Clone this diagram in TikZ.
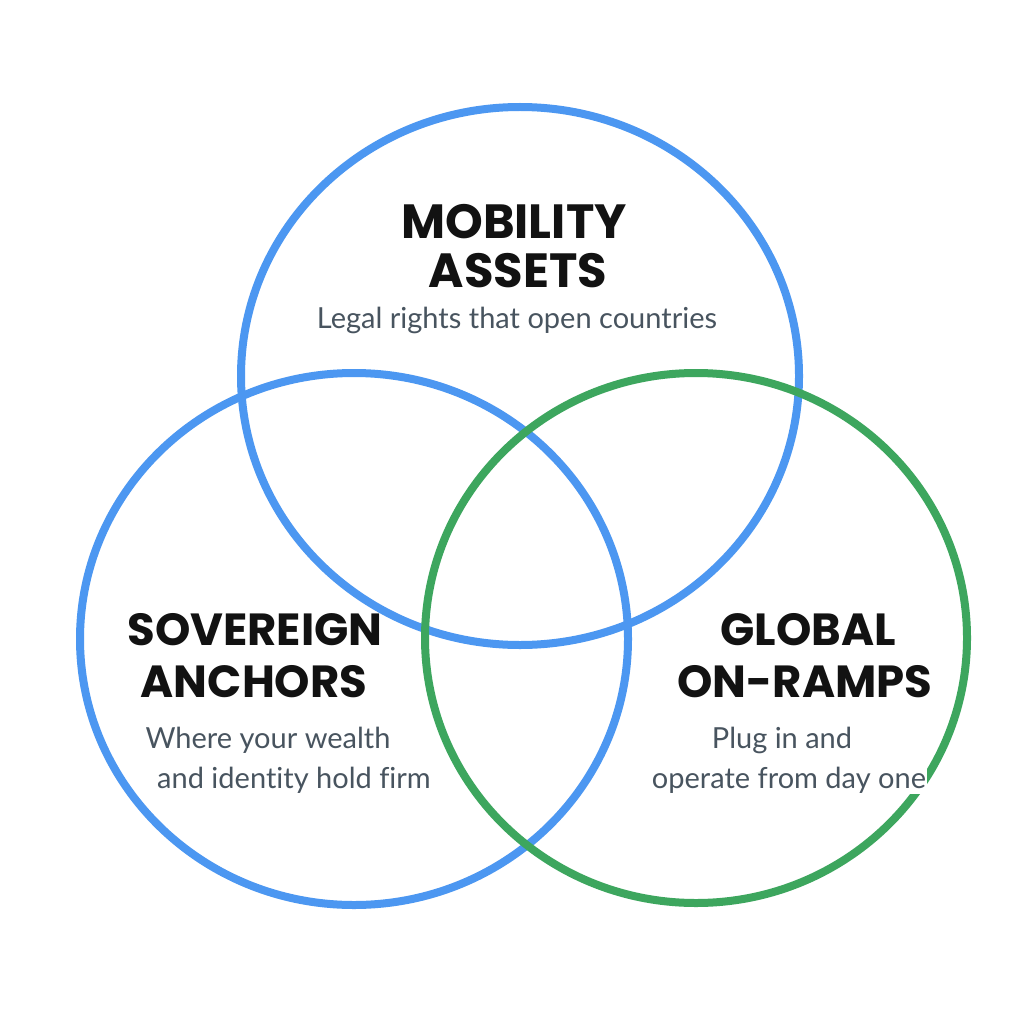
\documentclass[tikz,border=0pt]{standalone}
\usepackage{fontspec}
\setmainfont{Lato}
\newfontfamily\headfont{Poppins}
\newfontfamily\subfont{Lato}[Ligatures=NoCommon]
\definecolor{cblue}{HTML}{4C97F1}
\definecolor{cgreen}{HTML}{3DA65E}
\definecolor{subgray}{HTML}{48545F}
\definecolor{headblack}{HTML}{121212}
\tikzset{
  ring/.style={line width=8pt},
  head/.style={font=\headfont\bfseries\fontsize{45}{52}\selectfont, text=headblack, anchor=base, inner sep=0pt},
  bighead/.style={head, font=\headfont\bfseries\fontsize{48}{55}\selectfont},
  sub/.style={font=\subfont\fontsize{29}{34}\selectfont, text=subgray, anchor=base, inner sep=1pt},
}
\begin{document}
\begin{tikzpicture}[x=1pt,y=-1pt]
\useasboundingbox (0,0) rectangle (1024,1024);
\fill[white] (0,0) rectangle (1024,1024);
\draw[ring, cblue] (520,376) ellipse [x radius=279, y radius=269];
\draw[ring, cblue] (354,639) ellipse [x radius=274, y radius=266];
\draw[ring, cgreen] (696,638) ellipse [x radius=271, y radius=265];
\node[bighead] (t1) at (514,239) {MOBILITY};
\node[bighead] (t2) at (518,287) {ASSETS};
\node[sub] (t3) at (517,328) {Legal rights that open countries};
\node[head] (l1) at (255,645) {SOVEREIGN};
\node[head] (l2) at (254,697) {ANCHORS};
\node[sub] (l3) at (268,748) {Where your wealth};
\node[sub] (l4) at (294,788) {and identity hold firm};
\node[head] (r1) at (808,645) {GLOBAL};
\node[head] (r2) at (805,697) {ON-RAMPS};
\node[sub] (r3) at (782,748) {Plug in and};
\node[sub, fill=white] (r4) at (789,788) {operate from day one};
\end{tikzpicture}
\end{document}
